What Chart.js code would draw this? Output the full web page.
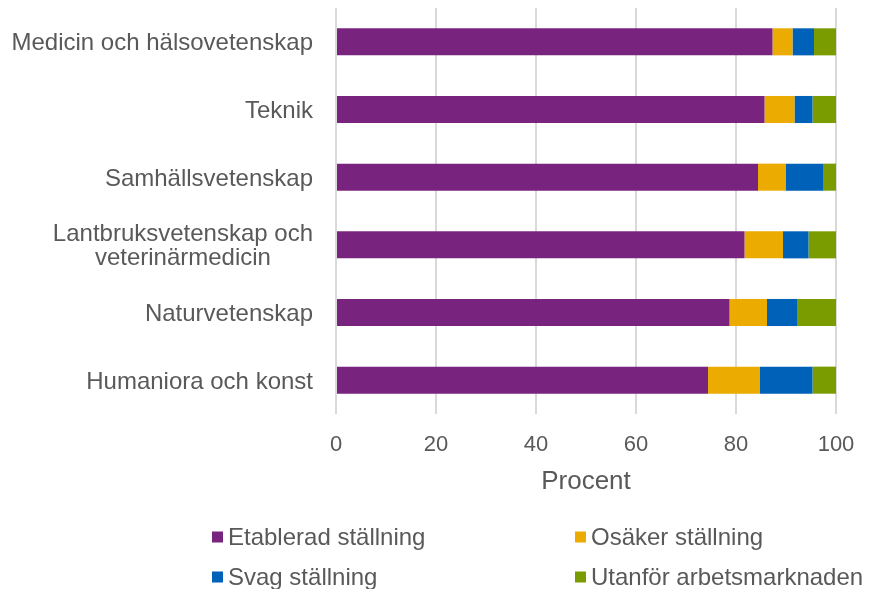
<!DOCTYPE html>
<html>
<head>
<meta charset="utf-8">
<script src="https://cdn.jsdelivr.net/npm/chart.js@4"></script>
<style>
  html, body { margin: 0; padding: 0; background: #fff; }
  #wrap { width: 881px; height: 589px; position: relative; }
</style>
</head>
<body>
<div id="wrap"><canvas id="chart"></canvas></div>
<script>
// data
const categories = [
    'Medicin och hälsovetenskap',
    'Teknik',
    'Samhällsvetenskap',
    ['Lantbruksvetenskap och', 'veterinärmedicin'],
    'Naturvetenskap',
    'Humaniora och konst'
];
const seriesNames = ['Etablerad ställning', 'Osäker ställning', 'Svag ställning', 'Utanför arbetsmarknaden'];
const seriesColors = ['#78247f', '#ebab00', '#0061b8', '#7a9c01'];
const etablerad = [87.3, 85.7, 84.4, 81.7, 78.7, 74.4];
const osaker = [4.0, 6.0, 5.5, 7.7, 7.5, 10.4];
const svag = [4.3, 3.6, 7.5, 5.1, 6.0, 10.5];
const utanfor = [4.4, 4.7, 2.6, 5.5, 7.8, 4.7];
const xTicks = [0, 20, 40, 60, 80, 100];

const textColor = '#595959';
const fontFamily = '"Liberation Sans", Arial, sans-serif';

// y labels: block right aligned, lines centred within the block
const yLabelPlugin = {
    id: 'yLabels',
    afterDraw(chart) {
        const scale = chart.scales.y;
        const ctx = chart.ctx;
        ctx.save();
        ctx.font = '24px ' + fontFamily;
        ctx.fillStyle = textColor;
        ctx.textAlign = 'center';
        ctx.textBaseline = 'middle';
        const right = scale.right - 23;
        const lineH = 24;
        chart.data.labels.forEach((lab, i) => {
            const lines = Array.isArray(lab) ? lab : [lab];
            const w = Math.max(...lines.map(l => ctx.measureText(l).width));
            const cx = right - w / 2;
            const cy = scale.getPixelForTick(i) + 2;
            lines.forEach((l, j) => {
                ctx.fillText(l, cx, cy + (j - (lines.length - 1) / 2) * lineH);
            });
        });
        ctx.restore();
    }
};

// legend in a 2x2 grid under the plot
const gridLegendPlugin = {
    id: 'gridLegend',
    afterDraw(chart) {
        const ctx = chart.ctx;
        const cols = [212, 575];
        const rows = [537, 577];
        ctx.save();
        ctx.font = '24px ' + fontFamily;
        ctx.textBaseline = 'middle';
        ctx.textAlign = 'left';
        chart.data.datasets.forEach((ds, i) => {
            const x = cols[i % 2];
            const y = rows[Math.floor(i / 2)];
            ctx.fillStyle = ds.backgroundColor;
            ctx.fillRect(x, y - 5.5, 11, 11);
            ctx.fillStyle = textColor;
            ctx.fillText(ds.label, x + 16, y + 1);
        });
        ctx.restore();
    }
};

const seriesData = [etablerad, osaker, svag, utanfor];

new Chart(document.getElementById('chart'), {
    type: 'bar',
    data: {
        labels: categories,
        datasets: seriesNames.map((name, i) => ({
            label: name,
            data: seriesData[i],
            backgroundColor: seriesColors[i],
            borderWidth: 0,
            categoryPercentage: 1,
            barPercentage: 0.4
        }))
    },
    options: {
        indexAxis: 'y',
        responsive: true,
        maintainAspectRatio: false,
        animation: false,
        layout: { padding: { top: 8, right: 45, bottom: 92, left: 0 } },
        plugins: {
            legend: { display: false },
            tooltip: { enabled: false }
        },
        scales: {
            x: {
                stacked: true,
                min: 0,
                max: 100,
                afterBuildTicks(scale) {
                    scale.ticks = xTicks.map(v => ({ value: v }));
                },
                grid: { color: '#d9d9d9', lineWidth: 2, drawTicks: false },
                border: { display: false },
                ticks: {
                    padding: 18,
                    color: textColor,
                    font: { family: fontFamily, size: 22 }
                },
                title: {
                    display: true,
                    text: 'Procent',
                    color: textColor,
                    font: { family: fontFamily, size: 26 },
                    padding: { top: 4, bottom: 0 }
                },
                afterFit(scale) { scale.height = 83; }
            },
            y: {
                stacked: true,
                grid: { display: false },
                border: { display: false },
                ticks: { display: false },
                afterFit(scale) { scale.width = 336; }
            }
        }
    },
    plugins: [yLabelPlugin, gridLegendPlugin]
});
</script>
</body>
</html>
